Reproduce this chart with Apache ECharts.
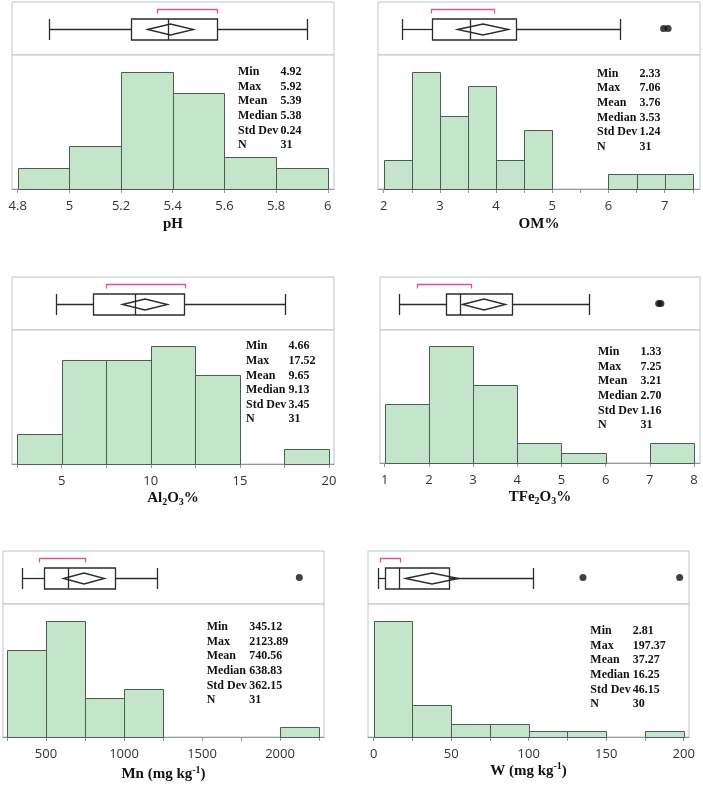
<!DOCTYPE html>
<html><head><meta charset="utf-8">
<script src="https://cdn.jsdelivr.net/npm/echarts@6/dist/echarts.min.js"></script>
<style>html,body{margin:0;padding:0;background:#fff}#c{width:703px;height:785px}</style>
</head><body><div id="c"></div>
<script>
// ---------- DATA ----------
const statLabels = ['Min', 'Max', 'Mean', 'Median', 'Std Dev', 'N'];

const phEdges = [4.8, 5.0, 5.2, 5.4, 5.6, 5.8, 6.0];
const phCounts = [2, 4, 11, 9, 3, 2];
const phBox = [4.92, 5.24, 5.38, 5.57, 5.92];      // whisker low, Q1, median, Q3, whisker high
const phMeanCI = [5.30, 5.48];
const phShortest = [5.34, 5.57];
const phOutliers = [];
const phStats = ['4.92', '5.92', '5.39', '5.38', '0.24', '31'];
const phLabels = [4.8, 5, 5.2, 5.4, 5.6, 5.8, 6];
const phTicks = [4.8, 5, 5.2, 5.4, 5.6, 5.8, 6];

const omEdges = [2, 2.5, 3, 3.5, 4, 4.5, 5, 5.5, 6, 6.5, 7, 7.5];
const omCounts = [2, 8, 5, 7, 2, 4, 0, 0, 1, 1, 1];
const omBox = [2.33, 2.86, 3.53, 4.35, 6.20];
const omMeanCI = [3.30, 4.22];
const omShortest = [2.84, 3.97];
const omOutliers = [6.98, 7.06];
const omStats = ['2.33', '7.06', '3.76', '3.53', '1.24', '31'];
const omLabels = [2, 3, 4, 5, 6, 7];
const omTicks = [2, 2.5, 3, 3.5, 4, 4.5, 5, 5.5, 6, 6.5, 7, 7.5];

const alEdges = [2.5, 5, 7.5, 10, 12.5, 15, 17.5, 20];
const alCounts = [2, 7, 7, 8, 6, 0, 1];
const alBox = [4.66, 6.77, 9.13, 11.88, 17.52];
const alMeanCI = [8.40, 10.90];
const alShortest = [7.49, 11.92];
const alOutliers = [];
const alStats = ['4.66', '17.52', '9.65', '9.13', '3.45', '31'];
const alLabels = [5, 10, 15, 20];
const alTicks = [2.5, 5, 7.5, 10, 12.5, 15, 17.5, 20];

const feEdges = [1, 2, 3, 4, 5, 6, 7, 8];
const feCounts = [6, 12, 8, 2, 1, 0, 2];
const feBox = [1.33, 2.39, 2.70, 3.87, 5.62];
const feMeanCI = [2.76, 3.72];
const feShortest = [1.74, 2.95];
const feOutliers = [7.20, 7.25];
const feStats = ['1.33', '7.25', '3.21', '2.70', '1.16', '31'];
const feLabels = [1, 2, 3, 4, 5, 6, 7, 8];
const feTicks = [1, 2, 3, 4, 5, 6, 7, 8];

const mnEdges = [250, 500, 750, 1000, 1250, 1500, 1750, 2000, 2250];
const mnCounts = [9, 12, 4, 5, 0, 0, 0, 1];
const mnBox = [345.12, 489, 638.83, 942, 1209];
const mnMeanCI = [608, 873];
const mnShortest = [457, 750];
const mnOutliers = [2123.89];
const mnStats = ['345.12', '2123.89', '740.56', '638.83', '362.15', '31'];
const mnLabels = [500, 1000, 1500, 2000];
const mnTicks = [250, 500, 750, 1000, 1250, 1500, 1750, 2000, 2250];

const wEdges = [0, 25, 50, 75, 100, 125, 150, 175, 200];
const wCounts = [18, 5, 2, 2, 1, 1, 0, 1];
const wBox = [2.81, 7.5, 16.25, 48.4, 102.8];
const wMeanCI = [20.0, 54.5];
const wShortest = [3.9, 16.8];
const wOutliers = [135, 197.37];
const wStats = ['2.81', '197.37', '37.27', '16.25', '46.15', '30'];
const wLabels = [0, 50, 100, 150, 200];
const wTicks = [0, 25, 50, 75, 100, 125, 150, 175, 200];

// ---------- LAYOUT / STYLE ----------
const panels = [
  { edges: phEdges, counts: phCounts, box: phBox, ci: phMeanCI, sh: phShortest, out: phOutliers, stats: phStats, labels: phLabels, ticks: phTicks,
    name: '{b|pH}', L: { left: 12, right: 334, top: 2, sep: 55, bottom: 189, xmin: 4.778, xmax: 6.024, ymax: 12.57, nameGap: 25, sx: 238, sy: 71.7 } },
  { edges: omEdges, counts: omCounts, box: omBox, ci: omMeanCI, sh: omShortest, out: omOutliers, stats: omStats, labels: omLabels, ticks: omTicks,
    name: '{b|OM%}', L: { left: 378, right: 700, top: 2, sep: 55, bottom: 189, xmin: 1.899, xmax: 7.628, ymax: 9.14, nameGap: 25, sx: 597, sy: 73.3 } },
  { edges: alEdges, counts: alCounts, box: alBox, ci: alMeanCI, sh: alShortest, out: alOutliers, stats: alStats, labels: alLabels, ticks: alTicks,
    name: '{b|Al}{sub|2}{b|O}{sub|3}{b|%}', L: { left: 12, right: 334, top: 277, sep: 330, bottom: 464, xmin: 2.211, xmax: 20.281, ymax: 9.06, nameGap: 20, sx: 246, sy: 346 } },
  { edges: feEdges, counts: feCounts, box: feBox, ci: feMeanCI, sh: feShortest, out: feOutliers, stats: feStats, labels: feLabels, ticks: feTicks,
    name: '{b|TFe}{sub|2}{b|O}{sub|3}{b|%}', L: { left: 380, right: 700, top: 277, sep: 330, bottom: 463, xmin: 0.894, xmax: 8.135, ymax: 13.6, nameGap: 22, sx: 598, sy: 351.7 } },
  { edges: mnEdges, counts: mnCounts, box: mnBox, ci: mnMeanCI, sh: mnShortest, out: mnOutliers, stats: mnStats, labels: mnLabels, ticks: mnTicks,
    name: '{b|Mn (mg kg}{sup|-1}{b|)}', L: { left: 3, right: 324, top: 551, sep: 604, bottom: 737, xmin: 224.4, xmax: 2282, ymax: 13.75, nameGap: 27, sx: 206.7, sy: 626.7 } },
  { edges: wEdges, counts: wCounts, box: wBox, ci: wMeanCI, sh: wShortest, out: wOutliers, stats: wStats, labels: wLabels, ticks: wTicks,
    name: '{b|W (mg kg}{sup|-1}{b|)}', L: { left: 368, right: 689, top: 551, sep: 604, bottom: 737, xmin: -3.68, xmax: 203.4, ymax: 20.65, nameGap: 23, sx: 590.3, sy: 630.7 } }
];

const FRAME = '#b8c4ca';
const AXIS = '#8f989c';
const BAR_FILL = '#c3e5c9';
const BAR_STROKE = '#4e5a53';
const BOX_LINE = '#2b2b2b';
const BRACKET = '#d9569a';
const SERIF = '"Liberation Serif", "Times New Roman", serif';

const grids = [], xAxes = [], yAxes = [], series = [], graphics = [];

panels.forEach((p, i) => {
  const L = p.L;
  const w = L.right - L.left;
  const gBox = i * 2, gHist = i * 2 + 1;
  grids.push({ left: L.left, top: L.top, width: w, height: L.sep - L.top, show: true, borderColor: FRAME, borderWidth: 1, backgroundColor: '#fff', containLabel: false, outerBoundsMode: 'none' });
  grids.push({ left: L.left, top: L.sep, width: w, height: L.bottom - L.sep, show: true, borderColor: FRAME, borderWidth: 1, backgroundColor: '#fff', containLabel: false, outerBoundsMode: 'none' });

  xAxes.push({ gridIndex: gBox, type: 'value', min: L.xmin, max: L.xmax, show: false });
  xAxes.push({
    gridIndex: gHist, type: 'value', min: L.xmin, max: L.xmax, position: 'bottom',
    splitLine: { show: false },
    axisLine: { show: true, onZero: false, lineStyle: { color: AXIS, width: 1 } },
    axisTick: { show: true, inside: false, length: 4, customValues: p.ticks, lineStyle: { color: AXIS } },
    axisLabel: { show: true, customValues: p.labels, margin: 11, fontFamily: '"Open Sans", "DejaVu Sans", sans-serif', fontSize: 13, color: '#333',
      formatter: v => String(v) },
    name: p.name, nameLocation: 'middle', nameGap: L.nameGap,
    nameTextStyle: {
      rich: {
        b: { fontFamily: SERIF, fontWeight: 'bold', fontSize: 15, color: '#111', lineHeight: 20 },
        sub: { fontFamily: SERIF, fontWeight: 'bold', fontSize: 10, color: '#111', lineHeight: 10, padding: [9, 0, 0, 0] },
        sup: { fontFamily: SERIF, fontWeight: 'bold', fontSize: 10, color: '#111', lineHeight: 10, padding: [0, 0, 8, 0] }
      }
    }
  });
  yAxes.push({ gridIndex: gBox, type: 'value', min: 0, max: 1, show: false });
  yAxes.push({ gridIndex: gHist, type: 'value', min: 0, max: L.ymax, show: false });

  // histogram bars
  series.push({
    type: 'custom', xAxisIndex: gHist, yAxisIndex: gHist, clip: false, silent: true,
    data: p.counts.map((c, k) => [p.edges[k], p.edges[k + 1], c]),
    encode: { x: [0, 1], y: 2 },
    renderItem: function (params, api) {
      const c = api.value(2);
      if (!c) return null;
      const a = api.coord([api.value(0), c]);
      const b = api.coord([api.value(1), 0]);
      const x0 = Math.round(a[0]) + 0.5, x1 = Math.round(b[0]) + 0.5;
      const y0 = Math.round(a[1]) + 0.5, y1 = Math.round(b[1]) + 0.5;
      return { type: 'rect', shape: { x: x0, y: y0, width: x1 - x0, height: y1 - y0 },
        style: { fill: BAR_FILL, stroke: BAR_STROKE, lineWidth: 1 } };
    }
  });

  // box plot with mean diamond and shortest-half bracket
  series.push({
    type: 'custom', xAxisIndex: gBox, yAxisIndex: gBox, clip: false, silent: true,
    data: [[p.box[0], p.box[1], p.box[2], p.box[3], p.box[4], p.ci[0], p.ci[1], p.sh[0], p.sh[1]]],
    encode: { x: [0, 1, 2, 3, 4, 5, 6, 7, 8] },
    renderItem: function (params, api) {
      const X = k => Math.round(api.coord([api.value(k), 0.5])[0]) + 0.5;
      const cy = Math.round(api.coord([api.value(0), 0.5])[1]) + 0.5;
      const topY = Math.round(api.coord([api.value(0), 1])[1]) + 0.5;
      const h = 10.5, dh = 5.5;
      const lo = X(0), q1 = X(1), md = X(2), q3 = X(3), hi = X(4), c0 = X(5), c1 = X(6), s0 = X(7), s1 = X(8);
      const ls = { stroke: BOX_LINE, lineWidth: 1.3, fill: null };
      const by = topY + 7;
      return { type: 'group', children: [
        { type: 'line', shape: { x1: lo, y1: cy, x2: q1, y2: cy }, style: ls },
        { type: 'line', shape: { x1: q3, y1: cy, x2: hi, y2: cy }, style: ls },
        { type: 'line', shape: { x1: lo, y1: cy - h, x2: lo, y2: cy + h }, style: ls },
        { type: 'line', shape: { x1: hi, y1: cy - h, x2: hi, y2: cy + h }, style: ls },
        { type: 'rect', shape: { x: q1, y: cy - h, width: q3 - q1, height: 2 * h }, style: ls },
        { type: 'line', shape: { x1: md, y1: cy - h, x2: md, y2: cy + h }, style: ls },
        { type: 'polygon', shape: { points: [[c0, cy], [(c0 + c1) / 2, cy - dh], [c1, cy], [(c0 + c1) / 2, cy + dh]] }, style: ls },
        { type: 'polyline', shape: { points: [[s0, by + 4], [s0, by], [s1, by], [s1, by + 4]] }, style: { stroke: BRACKET, lineWidth: 1.3, fill: null } }
      ] };
    }
  });

  if (p.out.length) {
    series.push({
      type: 'scatter', xAxisIndex: gBox, yAxisIndex: gBox, silent: true,
      symbol: 'circle', symbolSize: 7, itemStyle: { color: '#111' },
      data: p.out.map(v => [v, 0.5])
    });
  }

  // summary statistics text
  statLabels.forEach((lab, k) => {
    const y = L.sy + k * 14.6;
    graphics.push({ type: 'text', x: L.sx, y: y, scaleY: 1.1, silent: true,
      style: { text: lab, font: 'bold 12px ' + SERIF, fill: '#111', verticalAlign: 'middle', align: 'left' } });
    graphics.push({ type: 'text', x: L.sx + 42.5, y: y, scaleY: 1.1, silent: true,
      style: { text: p.stats[k], font: 'bold 12px ' + SERIF, fill: '#111', verticalAlign: 'middle', align: 'left' } });
  });
});

const chart = echarts.init(document.getElementById('c'), null, { renderer: 'canvas' });
chart.setOption({
  animation: false,
  backgroundColor: '#fff',
  grid: grids, xAxis: xAxes, yAxis: yAxes, series: series,
  graphic: { elements: graphics }
});
</script>
</body></html>
